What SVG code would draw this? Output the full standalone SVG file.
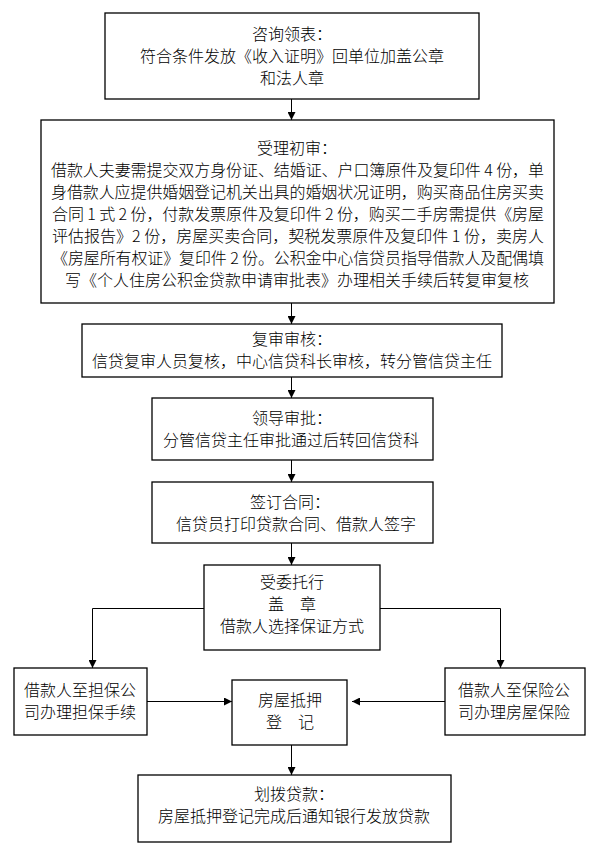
<svg xmlns="http://www.w3.org/2000/svg" width="603" height="854" viewBox="0 0 603 854">
<defs>
<marker id="ah" markerUnits="userSpaceOnUse" markerWidth="8" markerHeight="8" refX="8" refY="4" orient="auto">
<path d="M0,0 L8,4 L0,8 z" fill="#000"/>
</marker>
<style>
.box{fill:#fff;stroke:#000;stroke-width:1.3}
.t{font-family:"Noto Sans CJK SC","Noto Sans CJK JP",sans-serif;font-size:16px;font-weight:300;fill:#000;text-anchor:middle}
.j{text-anchor:start}
.c{fill:none;stroke:#000;stroke-width:1;marker-end:url(#ah)}
</style>
</defs>
<rect width="603" height="854" fill="#fff"/>
<g id="connectors">
<path class="c" d="M291.5,99 V120"/>
<path class="c" d="M291.5,303 V324"/>
<path class="c" d="M291.5,377 V398"/>
<path class="c" d="M291.5,460 V482"/>
<path class="c" d="M291.5,543 V565"/>
<path class="c" d="M204,608.5 H92.5 V668"/>
<path class="c" d="M380,608.5 H500.5 V668"/>
<path class="c" d="M147,701.5 H232"/>
<path class="c" d="M445,701.5 H352"/>
<path class="c" d="M291.5,745 V775"/>
</g>
<g id="n1">
<rect class="box" x="105" y="13" width="374" height="86"/>
<text class="t" x="292" y="40">咨询领表：</text>
<text class="t" x="292" y="62">符合条件发放《收入证明》回单位加盖公章</text>
<text class="t" x="292" y="84">和法人章</text>
</g>
<g id="n2">
<rect class="box" x="41" y="120" width="513" height="183"/>
<text class="t" x="297" y="154">受理初审：</text>
<text class="t j" x="51" y="176" textLength="493" lengthAdjust="spacing">借款人夫妻需提交双方身份证、结婚证、户口簿原件及复印件 4 份，单</text>
<text class="t j" x="51" y="198" textLength="493" lengthAdjust="spacing">身借款人应提供婚姻登记机关出具的婚姻状况证明，购买商品住房买卖</text>
<text class="t j" x="52" y="220" textLength="492" lengthAdjust="spacing">合同 1 式 2 份，付款发票原件及复印件 2 份，购买二手房需提供《房屋</text>
<text class="t j" x="52" y="242" textLength="492" lengthAdjust="spacing">评估报告》2 份，房屋买卖合同，契税发票原件及复印件 1 份，卖房人</text>
<text class="t j" x="52" y="264" textLength="492" lengthAdjust="spacing">《房屋所有权证》复印件 2 份。公积金中心信贷员指导借款人及配偶填</text>
<text class="t" x="297" y="286">写《个人住房公积金贷款申请审批表》办理相关手续后转复审复核</text>
</g>
<g id="n3">
<rect class="box" x="82" y="324" width="420" height="53"/>
<text class="t" x="292" y="345">复审审核：</text>
<text class="t" x="292" y="367">信贷复审人员复核，中心信贷科长审核，转分管信贷主任</text>
</g>
<g id="n4">
<rect class="box" x="152" y="398" width="281" height="62"/>
<text class="t" x="292" y="424">领导审批：</text>
<text class="t" x="291" y="446">分管信贷主任审批通过后转回信贷科</text>
</g>
<g id="n5">
<rect class="box" x="152" y="482" width="281" height="61"/>
<text class="t" x="290" y="508">签订合同：</text>
<text class="t" x="296" y="530">信贷员打印贷款合同、借款人签字</text>
</g>
<g id="n6">
<rect class="box" x="204" y="565" width="176" height="85"/>
<text class="t" x="292" y="588">受委托行</text>
<text class="t" x="292" y="610">盖　章</text>
<text class="t" x="292" y="632">借款人选择保证方式</text>
</g>
<g id="n7">
<rect class="box" x="14" y="668" width="133" height="67"/>
<text class="t" x="80" y="696">借款人至担保公</text>
<text class="t" x="80" y="718">司办理担保手续</text>
</g>
<g id="n8">
<rect class="box" x="232" y="680" width="115" height="65"/>
<text class="t" x="290" y="706">房屋抵押</text>
<text class="t" x="290" y="728">登　记</text>
</g>
<g id="n9">
<rect class="box" x="445" y="668" width="140" height="67"/>
<text class="t" x="514" y="696">借款人至保险公</text>
<text class="t" x="514" y="718">司办理房屋保险</text>
</g>
<g id="n10">
<rect class="box" x="138" y="775" width="313" height="67"/>
<text class="t" x="294" y="800">划拨贷款：</text>
<text class="t" x="294" y="822">房屋抵押登记完成后通知银行发放贷款</text>
</g>
</svg>
